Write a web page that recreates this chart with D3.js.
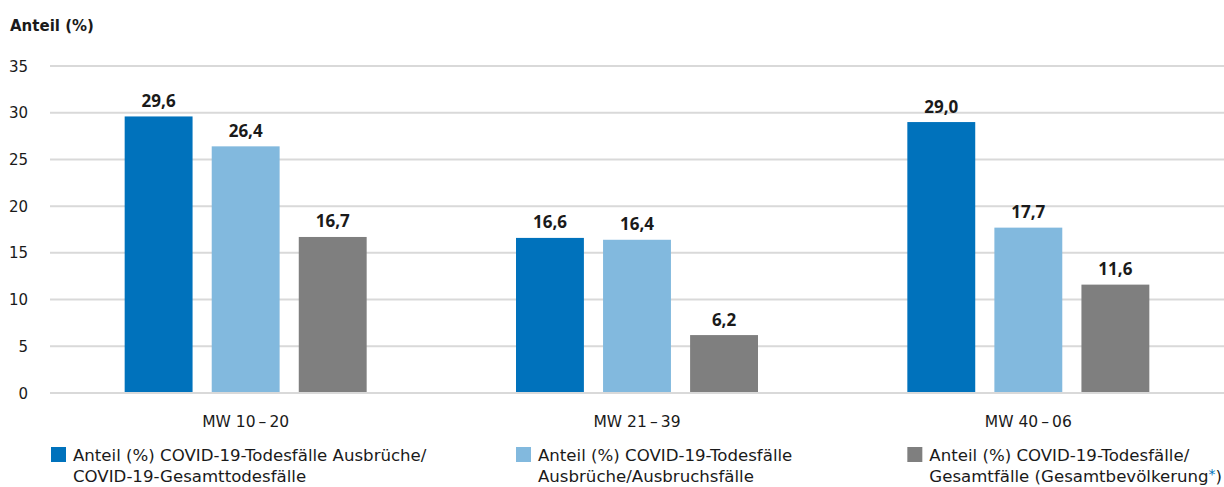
<!DOCTYPE html>
<html><head><meta charset="utf-8">
<script src="https://cdn.jsdelivr.net/npm/d3@7"></script>
<style>body{margin:0;background:#fff;} text{font-family:"DejaVu Sans",sans-serif;}</style>
</head><body>
<svg id="c" width="1224" height="487"></svg>
<script>
const categories = ["MW 10\u2009\u2013\u200920", "MW 21\u2009\u2013\u200939", "MW 40\u2009\u2013\u200906"];
const seriesNames = ["s1", "s2", "s3"];
const s1 = [29.6, 16.6, 29.0];
const s2 = [26.4, 16.4, 17.7];
const s3 = [16.7, 6.2, 11.6];
const colors = ["#0072BC", "#82B9DE", "#7F7F7F"];
const yTicks = [0, 5, 10, 15, 20, 25, 30, 35];
const legendLines = [
  ["Anteil (%) COVID-19-Todesfälle Ausbrüche/", "COVID-19-Gesamttodesfälle"],
  ["Anteil (%) COVID-19-Todesfälle", "Ausbrüche/Ausbruchsfälle"],
  ["Anteil (%) COVID-19-Todesfälle/", "Gesamtfälle (Gesamtbevölkerung"]
];
const series = [s1, s2, s3];

const svg = d3.select("#c");
const y = d3.scaleLinear().domain([0, 35]).range([393, 66]);
const x0 = d3.scaleBand().domain(categories).range([50, 1224]).padding(0);
const x1 = d3.scaleBand().domain(seriesNames).range([-121, 121]).paddingInner(0.22).paddingOuter(0);

svg.append("g").selectAll("line").data(yTicks).join("line")
  .attr("x1", 50).attr("x2", 1224)
  .attr("y1", d => y(d)).attr("y2", d => y(d))
  .attr("stroke", "#d9d9d9").attr("stroke-width", 2);

svg.append("g").selectAll("text").data(yTicks).join("text")
  .attr("x", 28).attr("y", d => y(d) + 5.5)
  .attr("text-anchor", "end").attr("font-size", 15).attr("fill", "#1a1a1a")
  .text(d => d);

svg.append("text").attr("x", 10).attr("y", 31).attr("font-size", 15)
  .attr("font-weight", "bold").attr("fill", "#1a1a1a").text("Anteil (%)");

const fmt = v => v.toFixed(1).replace(".", ",");
categories.forEach((cat, ci) => {
  const cx = x0(cat) + x0.bandwidth() / 2;
  const g = svg.append("g").attr("transform", `translate(${cx},0)`);
  seriesNames.forEach((sn, si) => {
    const v = series[si][ci];
    g.append("rect").attr("x", x1(sn)).attr("width", x1.bandwidth())
      .attr("y", y(v)).attr("height", y(0) - y(v) - 1).attr("fill", colors[si]);
    g.append("text").attr("x", x1(sn) + x1.bandwidth() / 2).attr("y", y(v) - 9.5)
      .attr("text-anchor", "middle").attr("font-size", 17).attr("font-weight", "bold")
      .style("font-family", "'Open Sans', sans-serif")
      .attr("fill", "#1a1a1a").text(fmt(v));
  });
  svg.append("text").attr("x", cx).attr("y", 427).attr("text-anchor", "middle")
    .attr("font-size", 15.5).attr("fill", "#1a1a1a").text(cat);
});

// legend: first item at plot left, others under the first bar of their group
seriesNames.forEach((sn, si) => {
  const lx = si === 0 ? x0.range()[0] + 1 : x0(categories[si]) + x0.bandwidth() / 2 + x1(seriesNames[0]);
  const g = svg.append("g");
  g.append("rect").attr("x", lx).attr("y", 447).attr("width", 15).attr("height", 15).attr("fill", colors[si]);
  const t = g.append("text").attr("x", lx + 22).attr("y", 461).attr("font-size", 16.6).attr("fill", "#1a1a1a");
  t.append("tspan").attr("x", lx + 22).attr("y", 461).text(legendLines[si][0]);
  t.append("tspan").attr("x", lx + 22).attr("y", 482).text(legendLines[si][1]);
  if (si === 2) {
    t.append("tspan").attr("fill", "#0072BC").attr("dy", -3).attr("font-size", 14).text("*");
    t.append("tspan").attr("dy", 3).text(")");
  }
});
</script>
</body></html>
